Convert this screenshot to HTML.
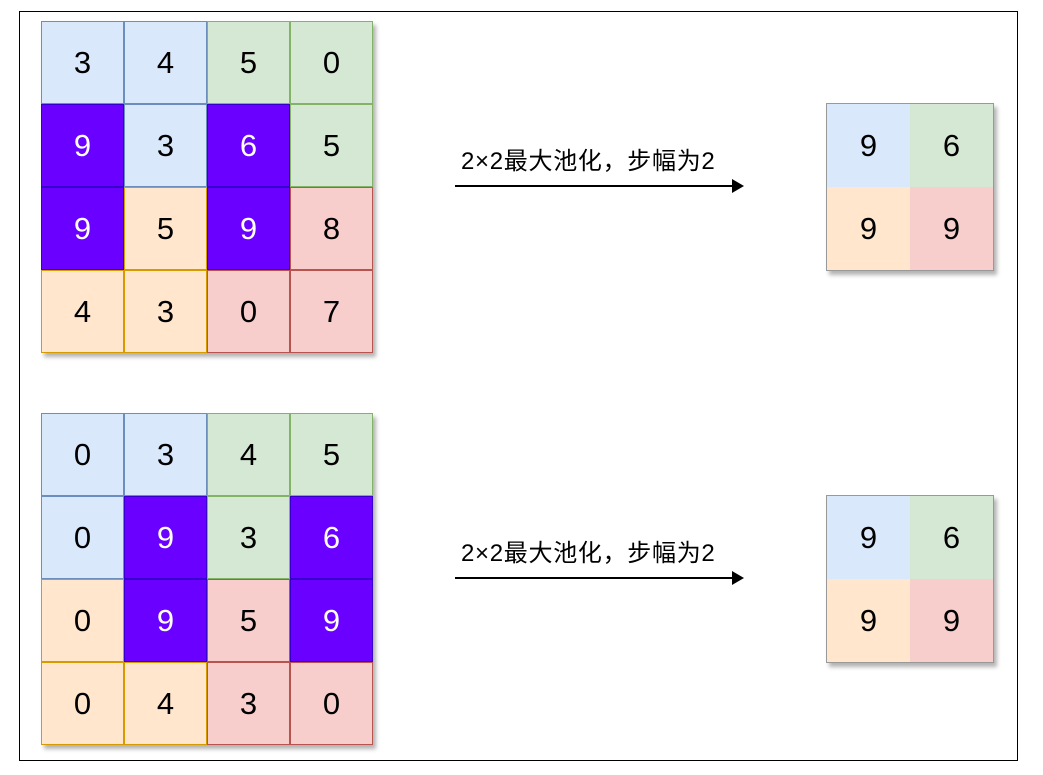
<!DOCTYPE html>
<html><head><meta charset="utf-8"><style>
body{margin:0;width:1043px;height:775px;background:#fff;position:relative;overflow:hidden;font-family:"Liberation Sans","Noto Sans CJK SC",sans-serif}
.c{position:absolute;width:83px;height:83px;box-sizing:border-box;border:1.5px solid;display:flex;align-items:center;justify-content:center;font-size:31px;color:#000}
.B{background:#dae8fc;border-color:#6c8ebf}.G{background:#d5e8d4;border-color:#82b366}.O{background:#ffe6cc;border-color:#d79b00}.R{background:#f8cecc;border-color:#b85450}.P{background:#6a00ff;border-color:#3700cc;color:#fff}
.g{position:absolute;box-shadow:3px 4px 4px rgba(0,0,0,.3)}
.s{position:absolute;width:166px;height:166px;border:1px solid #999;box-shadow:3px 4px 4px rgba(0,0,0,.3)}
.s div{position:absolute;width:83px;height:83px;display:flex;align-items:center;justify-content:center;font-size:31px}
.lab{position:absolute;font-size:24px;left:461px;line-height:30px;white-space:nowrap;letter-spacing:0.7px}
.ar{position:absolute;left:455px;width:278px;height:2px;background:#000}
.ar:after{content:"";position:absolute;right:-11px;top:-6px;border-left:12px solid #000;border-top:7px solid transparent;border-bottom:7px solid transparent}
</style></head><body>
<div style="position:absolute;left:19px;top:11px;width:997px;height:748px;border:1.5px solid #000"></div>
<div id="g1" class="g" style="left:41px;top:21px;width:332px;height:332px"></div>
<div id="g2" class="g" style="left:41px;top:413px;width:332px;height:332px"></div>
<div class="lab" style="top:147px">2×2最大池化，步幅为2</div>
<div class="ar" style="top:185px"></div>
<div class="lab" style="top:539px">2×2最大池化，步幅为2</div>
<div class="ar" style="top:577px"></div>
<div class="s" style="left:826px;top:103px"><div class="B" style="left:0;top:0">9</div><div class="G" style="left:83px;top:0">6</div><div class="O" style="left:0;top:83px">9</div><div class="R" style="left:83px;top:83px">9</div></div>
<div class="s" style="left:826px;top:495px"><div class="B" style="left:0;top:0">9</div><div class="G" style="left:83px;top:0">6</div><div class="O" style="left:0;top:83px">9</div><div class="R" style="left:83px;top:83px">9</div></div>
<script>
function grid(id,cols,vals){var g=document.getElementById(id);for(var r=0;r<4;r++)for(var c=0;c<4;c++){var d=document.createElement('div');d.className='c '+cols[r][c];d.style.left=(c*83)+'px';d.style.top=(r*83)+'px';d.textContent=vals[r][c];g.appendChild(d);}}
grid('g1',['BBGG','PBPG','POPR','OORR'],['3450','9365','9598','4307']);
grid('g2',['BBGG','BPGP','OPRP','OORR'],['0345','0936','0959','0430']);
</script>
</body></html>
